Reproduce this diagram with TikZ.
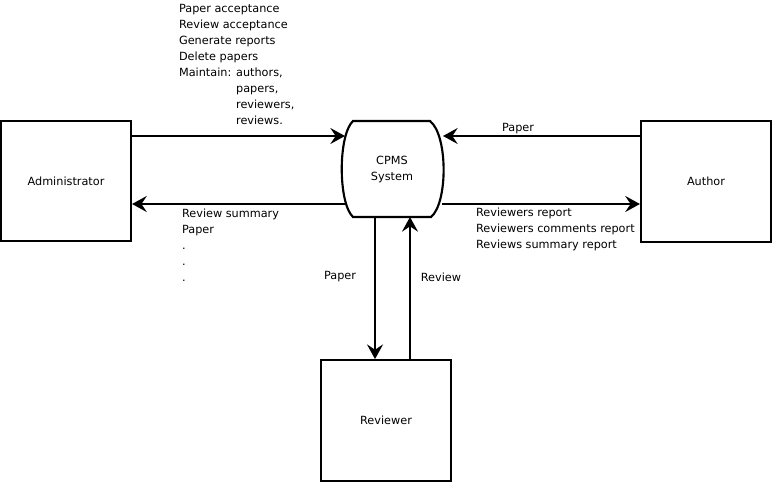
\documentclass[tikz,border=0pt]{standalone}
\usepackage{fontspec}
\setmainfont{DejaVu Sans}
\usetikzlibrary{arrows.meta,calc}

\tikzset{
    entity/.style={draw, line width=1.6pt, minimum width=97.5pt, minimum height=90.5pt, inner sep=0pt},
    lbl/.style={inner sep=0pt, align=left, anchor=north west},
}

\begin{document}
\begin{tikzpicture}[x=0.75pt,y=-0.75pt,line width=1.6pt,font=\fontsize{8.45}{12}\selectfont,
        >={Stealth[length=11pt,width=12pt,inset=4pt]}]
        \useasboundingbox (0,0) rectangle (775,485);

        \node[entity] (admin) at (66,181) {Administrator};
        \node[entity] (author) at (706,181.5) {Author};
        \node[entity] (rev) at (386,420.5) {Reviewer};
        \node[minimum width=76.5pt, minimum height=72pt, align=center, inner sep=0pt] (cpms) at (392,169) {CPMS\\System};

        \draw (353,121) -- (430,121) .. controls (448,135) and (448,203) .. (431,217)
            -- (353,217) .. controls (338,203) and (338,135) .. (353,121) -- cycle;

        \coordinate (cL1) at (345,136);
        \coordinate (cL2) at (345,204);
        \coordinate (cR1) at (443,136);
        \coordinate (cR2) at (442,204);
        \coordinate (cB1) at (375,217);
        \coordinate (cB2) at (410,217);

        \draw[->] (admin.east |- cL1) -- (cL1);
        \draw[->] (cL2) -- (admin.east |- cL2);
        \draw[->] (author.west |- cR1) -- (cR1);
        \draw[->] (cR2) -- (author.west |- cR2);
        \draw[->] (cB1) -- (cB1 |- rev.north);
        \draw[->] (cB2 |- rev.north) -- (cB2);

        \node[lbl] (tasks) at (178,3) {Paper acceptance\\Review acceptance\\Generate reports\\Delete papers\\Maintain: authors,\\\phantom{Maintain: }papers,\\\phantom{Maintain: }reviewers,\\\phantom{Maintain: }reviews.};
        \node[lbl] (toadmin) at (181,207.5) {Review summary\\Paper\\.\\.\\.};
        \node[lbl] (toauthor) at (475,206.5) {Reviewers report\\Reviewers comments report\\Reviews summary report};
        \node (fromauthor) at (518,129) {Paper};
        \node (torev) at (340,277) {Paper};
        \node (fromrev) at (441,277) {Review};
    \end{tikzpicture}
\end{document}
